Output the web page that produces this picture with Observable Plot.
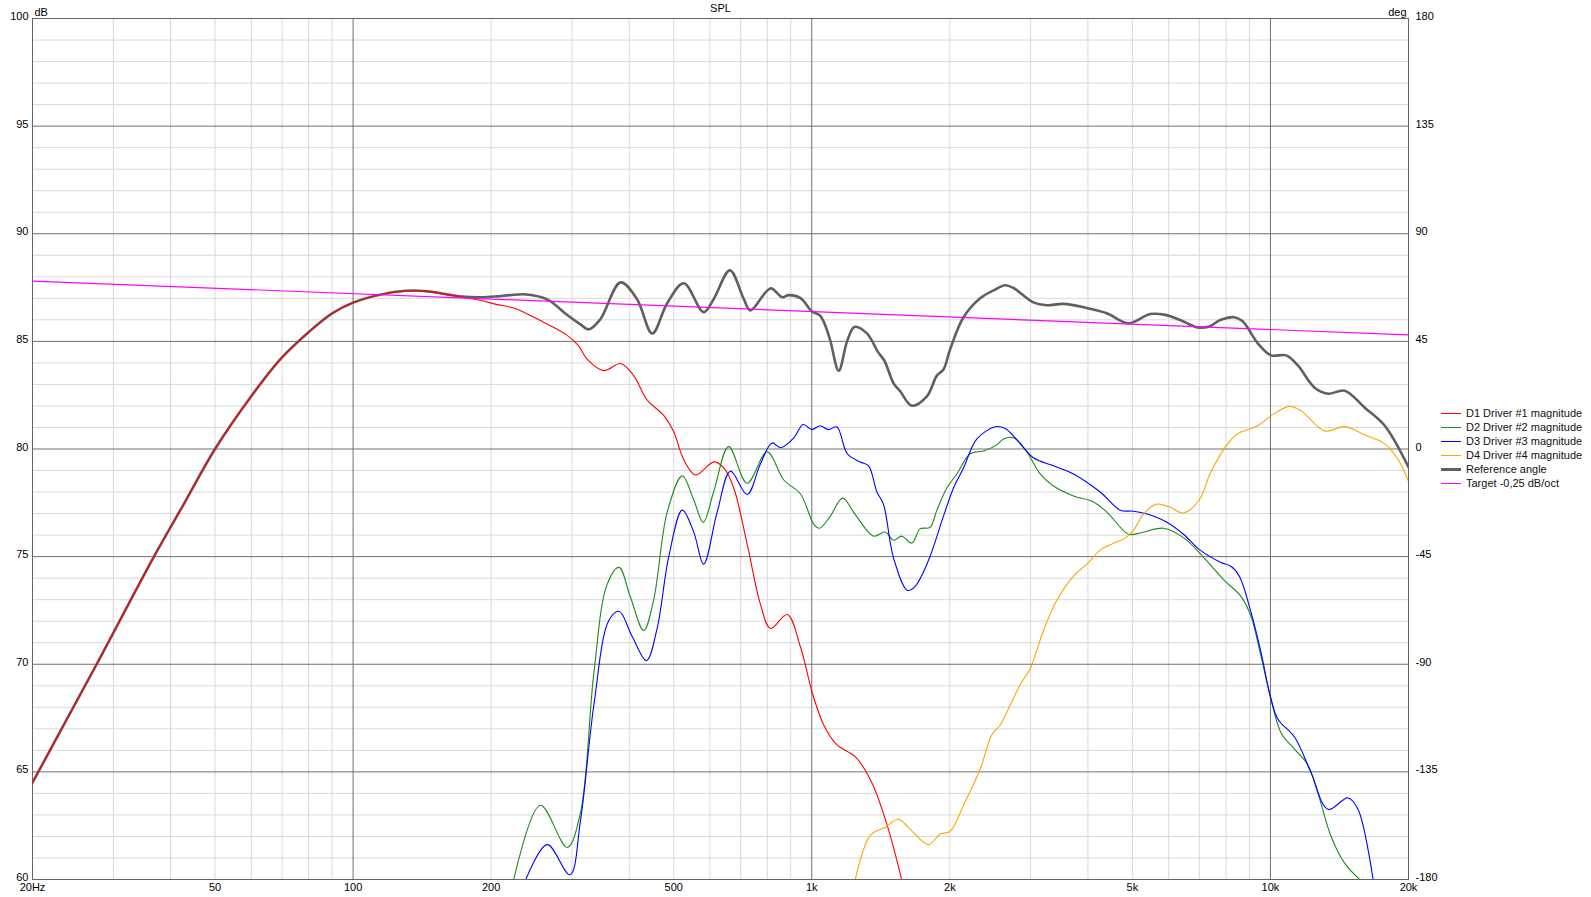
<!DOCTYPE html>
<html>
<head>
<meta charset="utf-8">
<script src="https://cdn.jsdelivr.net/npm/d3@7"></script>
<script src="https://cdn.jsdelivr.net/npm/@observablehq/plot@0.6"></script>
<style>
  html, body { margin: 0; padding: 0; background: #fff; }
  #chart { position: relative; width: 1591px; height: 897px; }
</style>
</head>
<body>
<div id="chart"></div>
<script>
// ---------- tick / axis data ----------
const xTicks = [20, 50, 100, 200, 500, 1000, 2000, 5000, 10000, 20000];
const xTickLabels = ["20Hz", "50", "100", "200", "500", "1k", "2k", "5k", "10k", "20k"];
const minorFreqs = [30, 40, 50, 60, 70, 80, 90, 200, 300, 400, 500, 600, 700, 800, 900,
  2000, 3000, 4000, 5000, 6000, 7000, 8000, 9000];
const majorFreqs = [100, 1000, 10000];
const yTicks = [60, 65, 70, 75, 80, 85, 90, 95, 100];
const degLabels = ["-180", "-135", "-90", "-45", "0", "45", "90", "135", "180"];
const minorDb = [61, 62, 63, 64, 66, 67, 68, 69, 71, 72, 73, 74, 76, 77, 78, 79,
  81, 82, 83, 84, 86, 87, 88, 89, 91, 92, 93, 94, 96, 97, 98, 99];

// ---------- series ----------
const seriesNames = ["D1 Driver #1 magnitude", "D2 Driver #2 magnitude", "D3 Driver #3 magnitude",
  "D4 Driver #4 magnitude", "Reference angle", "Target -0,25 dB/oct"];
const seriesColors = ["#ff0000", "#1a8c1a", "#0000ff", "#ffa500", "#606060", "#ff00ff"];

const freqD1 = [20, 23.7, 27.6, 36.8, 42.9, 50, 60.2, 69.6, 80.2, 90, 100, 115, 130, 145, 170, 190, 205,
  224, 254, 292, 310, 324, 352, 383, 409, 437, 476, 500, 526, 558, 612, 643, 676, 723, 773, 813, 884, 945,
  1005, 1062, 1135, 1245, 1352, 1466, 1570];
const dbD1 = [64.5, 67.4, 70.0, 75.0, 77.5, 80.0, 82.5, 84.2, 85.45, 86.3, 86.8, 87.18, 87.33, 87.31, 87.07, 86.9, 86.72,
  86.55, 86.0, 85.3, 84.8, 84.16, 83.64, 83.97, 83.41, 82.29, 81.55, 80.8, 79.5, 78.79, 79.4, 79.12, 78.19, 75.58, 72.78, 71.66, 72.31, 70.8,
  68.6, 67.18, 66.25, 65.7, 64.5, 62.4, 60.0];

const freqD2 = [224, 256, 293, 313, 335, 358, 380, 402, 430, 452, 484, 522, 553, 580, 611, 659, 723, 799, 869, 945,
  1010, 1040, 1095, 1168, 1240, 1364, 1446, 1508, 1572, 1653, 1723, 1811, 1874, 1970, 2072, 2215, 2369, 2532, 2619,
  2754, 2944, 3147, 3365, 3721, 4114, 4399, 4906, 5201, 5848, 6484, 7173, 7933, 8626, 9073, 9541, 10000, 10551,
  11285, 12070, 12690, 13580, 14520, 15656];
const dbD2 = [60, 63.45, 61.49, 63.08, 69.61, 73.71, 74.5, 73.15, 71.57, 72.97, 77.07, 78.75, 77.63, 76.59, 78.0, 80.11, 78.41, 79.87, 78.56, 77.91,
  76.51, 76.32, 76.85, 77.72, 77.0, 75.95, 76.14, 75.76, 75.95, 75.63, 76.29, 76.36, 77.16, 78.19, 78.84, 79.78, 79.91, 80.19, 80.47,
  80.52, 79.87, 78.84, 78.28, 77.82, 77.54, 77.07, 76.04, 76.1, 76.32, 75.86, 74.93, 73.9, 73.15, 72.22, 70.35, 68.49, 66.81,
  66.06, 65.32, 64.01, 61.96, 60.75, 60.0];

const freqD3 = [238, 265, 297, 313, 335, 361, 380, 406, 436, 460, 488, 522, 553, 581, 622, 665, 723, 773, 819, 855,
  914, 958, 1000, 1043, 1088, 1134, 1195, 1275, 1330, 1387, 1433, 1508, 1617, 1680, 1797, 1937, 2037, 2142, 2291,
  2512, 2641, 2800, 3044, 3365, 3721, 4255, 4704, 5029, 5378, 5945, 6464, 7030, 7776, 8204, 8555, 9073, 9541,
  10000, 10376, 11285, 12275, 13353, 14767, 15524, 16745];
const dbD3 = [60, 61.62, 60.22, 62.7, 68.12, 72.03, 72.46, 71.29, 70.17, 71.66, 75.02, 77.16, 76.14, 74.65, 77.07, 78.97, 77.89, 79.31, 80.28, 80.06,
  80.52, 81.14, 80.9, 81.08, 80.9, 81.03, 79.78, 79.4, 79.22, 78.0, 77.44, 74.93, 73.43, 73.62, 74.83, 76.88, 78.19, 79.12, 80.47,
  81.03, 80.95, 80.43, 79.59, 79.22, 78.84, 78.0, 77.16, 77.11, 76.98, 76.6, 76.04, 75.3, 74.74, 74.55, 74.09, 72.41, 70.54,
  68.49, 67.46, 66.62, 64.94, 63.26, 63.79, 63.26, 60.0];

const freqD4 = [1244, 1341, 1446, 1546, 1639, 1797, 1905, 2003, 2142, 2329, 2469, 2575, 2685, 2847, 2993, 3201, 3422,
  3721, 3980, 4255, 4549, 4825, 5029, 5288, 5652, 6046, 6464, 6993, 7418, 8067, 8483, 9384, 10034, 11004, 11671,
  13128, 14520, 16056, 17757, 18991, 20000];
const dbD4 = [60, 62.05, 62.43, 62.8, 62.33, 61.62, 62.11, 62.24, 63.45, 65.13, 66.72, 67.18, 67.93, 69.05, 69.79, 71.57, 72.97,
  74.09, 74.65, 75.3, 75.62, 75.86, 76.23, 76.98, 77.44, 77.29, 77.03, 77.63, 78.94, 80.24, 80.71, 81.08, 81.55, 81.98, 81.77,
  80.84, 81.04, 80.65, 80.24, 79.5, 78.5];

const freqRef = [20, 23.7, 27.6, 36.8, 42.9, 50, 60.2, 69.6, 80.2, 90, 100, 115, 130, 145, 170, 190, 206, 220,
  239, 265, 292, 313, 327, 346, 383, 416, 449, 484, 526, 581, 611, 663, 711, 735, 813, 862, 891, 945, 1000, 1044,
  1092, 1145, 1194, 1239, 1319, 1395, 1440, 1509, 1560, 1653, 1782, 1874, 1937, 2003, 2142, 2329, 2490, 2641, 2754,
  3044, 3254, 3538, 3980, 4399, 4906, 5469, 5900, 6359, 6934, 7355, 7776, 8343, 8700, 9384, 10034, 10822, 11477,
  12485, 13353, 14520, 16056, 17757, 20000];
const dbRef = [64.5, 67.4, 70.0, 75.0, 77.5, 80.0, 82.5, 84.2, 85.45, 86.3, 86.8, 87.18, 87.35, 87.33, 87.1, 87.05, 87.09, 87.15,
  87.18, 86.95, 86.25, 85.79, 85.56, 86.03, 87.74, 86.96, 85.37, 86.77, 87.7, 86.36, 86.96, 88.3, 86.96, 86.44, 87.46, 87.05, 87.15, 87.01, 86.4, 86.18,
  85.2, 83.64, 85.0, 85.67, 85.37, 84.5, 84.1, 83.04, 82.67, 82.01, 82.44, 83.41, 83.69, 84.63, 86.12, 87.0, 87.37, 87.61, 87.48,
  86.81, 86.68, 86.74, 86.55, 86.31, 85.84, 86.27, 86.23, 85.99, 85.65, 85.69, 85.99, 86.12, 85.93, 84.91, 84.35, 84.35, 83.88,
  82.85, 82.57, 82.71, 81.92, 81.08, 79.15];

const freqTarget = [20, 20000];
const dbTarget = [87.8, 85.3];

// ---------- build tables ----------
const rows = (f, d) => f.map((v, i) => ({f: v, db: d[i]}));
const d1 = rows(freqD1, dbD1), d2 = rows(freqD2, dbD2), d3 = rows(freqD3, dbD3), d4 = rows(freqD4, dbD4);
const ref = rows(freqRef, dbRef), target = rows(freqTarget, dbTarget);
const xLabelRows = xTicks.map((v, i) => ({f: v, label: xTickLabels[i]}));

const lineOpts = (color, w) => ({x: "f", y: "db", stroke: color, strokeWidth: w, curve: "catmull-rom", clip: true});

const chart = Plot.plot({
  width: 1591,
  height: 897,
  marginLeft: 32,
  marginRight: 183,
  marginTop: 18,
  marginBottom: 18,
  x: {type: "log", domain: [20, 20000], axis: null},
  y: {domain: [60, 100], axis: null},
  style: {fontFamily: "'Liberation Sans', Arial, sans-serif", fontSize: "11px", color: "#000", background: "#fff"},
  marks: [
    Plot.ruleX(minorFreqs, {stroke: "#d9d9d9", strokeOpacity: 1}),
    Plot.ruleY(minorDb, {stroke: "#d9d9d9", strokeOpacity: 1}),
    Plot.ruleX(majorFreqs, {stroke: "#707070", strokeOpacity: 1}),
    Plot.ruleY(yTicks, {stroke: "#707070", strokeOpacity: 1}),
    Plot.frame({stroke: "#646464"}),
    Plot.line(ref, lineOpts(seriesColors[4], 2.6)),
    Plot.line(d1, lineOpts(seriesColors[0], 1.1)),
    Plot.line(d2, lineOpts(seriesColors[1], 1.1)),
    Plot.line(d3, lineOpts(seriesColors[2], 1.1)),
    Plot.line(d4, lineOpts(seriesColors[3], 1.1)),
    Plot.line(target, {x: "f", y: "db", stroke: seriesColors[5], strokeWidth: 1.2, clip: true}),
    Plot.axisY({anchor: "left", ticks: yTicks, tickSize: 0, tickPadding: 4, dy: -2, label: null,
      tickFormat: d => String(d)}),
    Plot.axisY({anchor: "right", ticks: yTicks, tickSize: 0, tickPadding: 7, dy: -2, label: null,
      tickFormat: d => degLabels[yTicks.indexOf(d)]}),
    Plot.text(xLabelRows, {x: "f", text: "label", frameAnchor: "bottom", lineAnchor: "top", dy: 4, fill: "#000"}),
    Plot.text(["dB"], {frameAnchor: "top-left", dx: 2, dy: -3, lineAnchor: "bottom", textAnchor: "start"}),
    Plot.text(["deg"], {frameAnchor: "top-right", dx: -2, dy: -3, lineAnchor: "bottom", textAnchor: "end"}),
    Plot.text(["SPL"], {frameAnchor: "top", dy: -7, lineAnchor: "bottom"})
  ]
});
document.getElementById("chart").appendChild(chart);

// ---------- legend ----------
const NS = "http://www.w3.org/2000/svg";
const lg = document.createElementNS(NS, "g");
lg.setAttribute("font-family", "'Liberation Sans', Arial, sans-serif");
lg.setAttribute("font-size", "11");
lg.setAttribute("text-anchor", "start");
const legendWidths = [1, 1, 1, 1, 3, 1];
seriesNames.forEach((name, i) => {
  const y = 413 + i * 14;
  const ln = document.createElementNS(NS, "line");
  ln.setAttribute("x1", 1441); ln.setAttribute("x2", 1461);
  ln.setAttribute("y1", y + 0.5); ln.setAttribute("y2", y + 0.5);
  ln.setAttribute("stroke", seriesColors[i]);
  ln.setAttribute("stroke-width", legendWidths[i]);
  lg.appendChild(ln);
  const tx = document.createElementNS(NS, "text");
  tx.setAttribute("x", 1466); tx.setAttribute("y", y);
  tx.setAttribute("dy", "0.35em"); tx.setAttribute("fill", "#111");
  tx.setAttribute("text-anchor", "start");
  tx.textContent = name;
  lg.appendChild(tx);
});
chart.appendChild(lg);
</script>
</body>
</html>
